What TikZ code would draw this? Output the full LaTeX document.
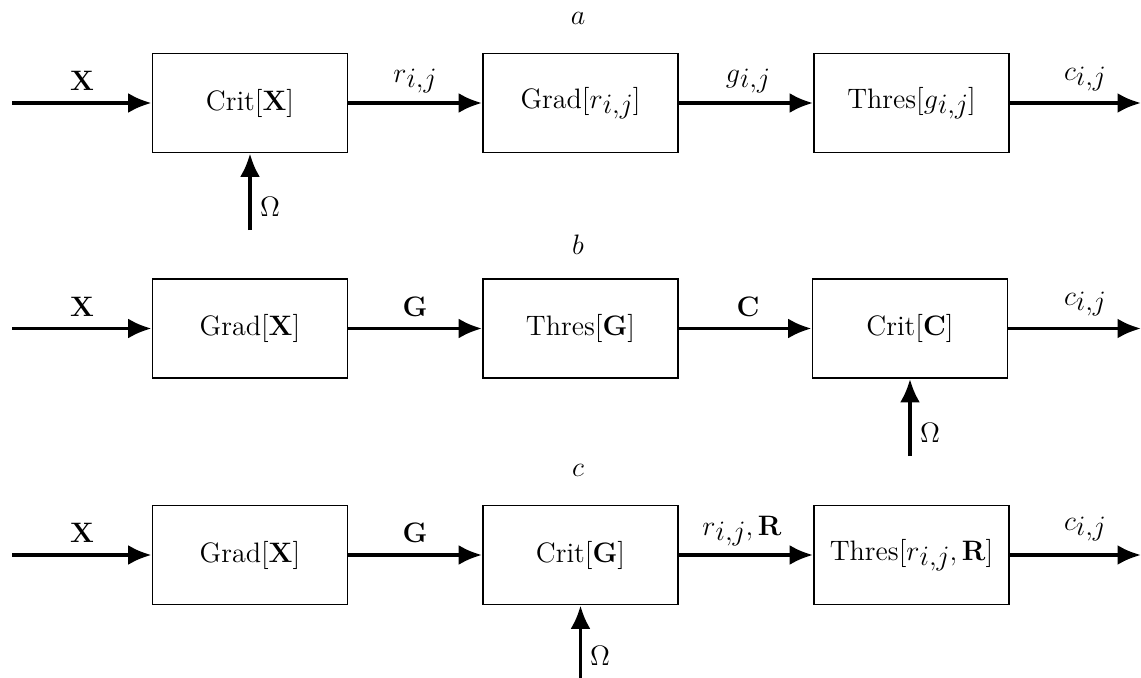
\documentclass[tikz,border=0pt]{standalone}
\usetikzlibrary{arrows.meta}
\newcommand{\subij}[1]{#1\lower0.45ex\hbox{$i{,}j$}}
\begin{document}
\begin{tikzpicture}[x=0.015cm,y=-0.015cm,font=\large,
  blk/.style={draw,line width=0.6pt,minimum width=2.93cm,minimum height=1.49cm,inner sep=0pt},
  flow/.style={line width=1.6pt,-{Latex[length=10pt,width=8.5pt]}},
  lbl/.style={inner sep=0pt}]
\useasboundingbox (0,0) rectangle (1141,678);
% row a
\node[lbl] (ta) at (578,18) {$a$};
\node[blk] (a1) at (250,103) {Crit$[\mathbf{X}]$};
\node[blk] (a2) at (580.5,103) {Grad$[\subij{r}]$};
\node[blk] (a3) at (911.5,103) {Thres$[\subij{g}]$};
\coordinate (ain) at (12,103);
\coordinate (aout) at (1141,103);
\coordinate (aom) at (250,230);
\draw[flow] (ain) -- (a1);
\draw[flow] (a1) -- (a2);
\draw[flow] (a2) -- (a3);
\draw[flow] (a3) -- (aout);
\draw[flow] (aom) -- (a1);
\node[lbl] (la1) at (82,81) {$\mathbf{X}$};
\node[lbl] (la2) at (415,81) {$\subij{r}$};
\node[lbl] (la3) at (748,81) {$\subij{g}$};
\node[lbl] (la4) at (1085,79) {$\subij{c}$};
\node[lbl] (la5) at (270,207) {$\Omega$};
% row b
\node[lbl] (tb) at (578,245) {$b$};
\node[blk] (b1) at (250,328.5) {Grad$[\mathbf{X}]$};
\node[blk] (b2) at (580.5,328.5) {Thres$[\mathbf{G}]$};
\node[blk] (b3) at (910,328.5) {Crit$[\mathbf{C}]$};
\coordinate (bin) at (12,328.5);
\coordinate (bout) at (1141,328.5);
\coordinate (bom) at (910,456);
\draw[flow] (bin) -- (b1);
\draw[flow] (b1) -- (b2);
\draw[flow] (b2) -- (b3);
\draw[flow] (b3) -- (bout);
\draw[flow] (bom) -- (b3);
\node[lbl] (lb1) at (82,307) {$\mathbf{X}$};
\node[lbl] (lb2) at (415,307) {$\mathbf{G}$};
\node[lbl] (lb3) at (748,307) {$\mathbf{C}$};
\node[lbl] (lb4) at (1085,304) {$\subij{c}$};
\node[lbl] (lb5) at (930,433) {$\Omega$};
% row c
\node[lbl] (tc) at (578,470) {$c$};
\node[blk] (c1) at (250,555) {Grad$[\mathbf{X}]$};
\node[blk] (c2) at (580.5,555) {Crit$[\mathbf{G}]$};
\node[blk] (c3) at (911.5,555) {Thres$[\subij{r},\mathbf{R}]$};
\coordinate (cin) at (12,555);
\coordinate (cout) at (1141,555);
\coordinate (com) at (580.5,678);
\draw[flow] (cin) -- (c1);
\draw[flow] (c1) -- (c2);
\draw[flow] (c2) -- (c3);
\draw[flow] (c3) -- (cout);
\draw[flow] (com) -- (c2);
\node[lbl] (lc1) at (82,533) {$\mathbf{X}$};
\node[lbl] (lc2) at (415,533) {$\mathbf{G}$};
\node[lbl] (lc3) at (742,531) {$\subij{r},\mathbf{R}$};
\node[lbl] (lc4) at (1085,529) {$\subij{c}$};
\node[lbl] (lc5) at (600,656) {$\Omega$};
\end{tikzpicture}
\end{document}
